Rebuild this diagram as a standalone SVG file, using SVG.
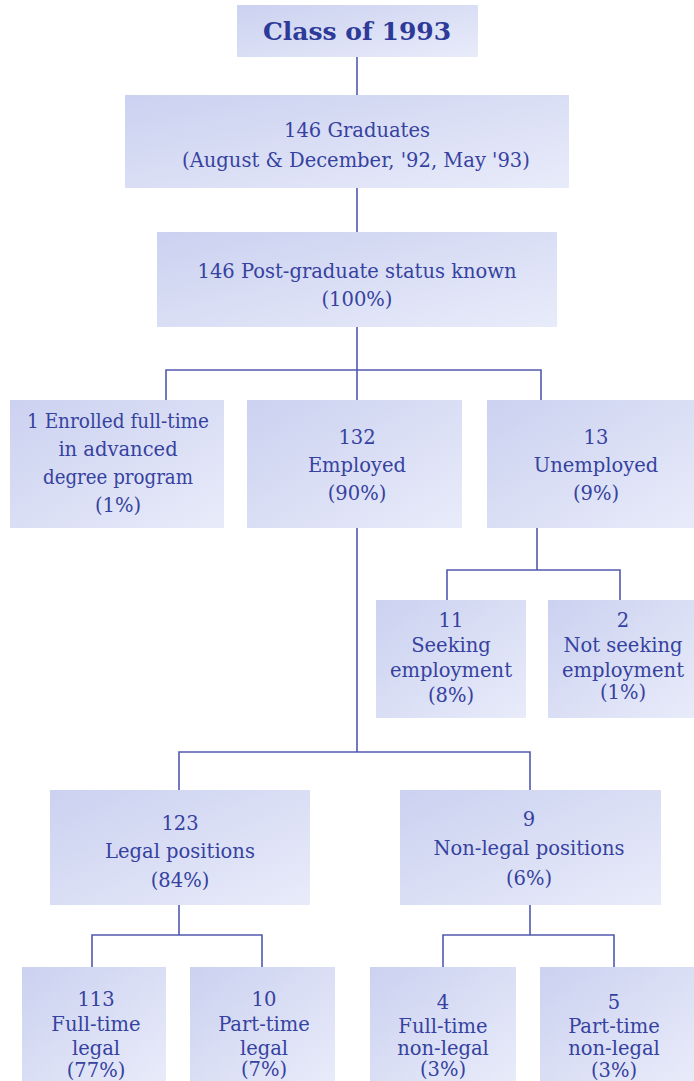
<svg xmlns="http://www.w3.org/2000/svg" width="694" height="1081" viewBox="0 0 694 1081">
<defs>
<linearGradient id="bg" x1="0" y1="0" x2="1" y2="1">
<stop offset="0" stop-color="#cbd1f0"/>
<stop offset="0.6" stop-color="#dde1f6"/>
<stop offset="1" stop-color="#e8ebf9"/>
</linearGradient>
<style>
.box{fill:url(#bg);}
.t{font-family:'DejaVu Serif','Liberation Serif',serif;font-size:19.5px;fill:#36429f;text-anchor:middle;}
.ti{font-family:'DejaVu Serif','Liberation Serif',serif;font-size:25px;font-weight:bold;fill:#2d3a98;text-anchor:middle;}
.c{stroke:#5159ae;stroke-width:1.6;fill:none;}
</style>
</defs>
<rect width="694" height="1081" fill="#ffffff"/>
<g id="connectors">
<path class="c" d="M357,57V95"/>
<path class="c" d="M357,188V232"/>
<path class="c" d="M357,327V400M166,400V370H541V400"/>
<path class="c" d="M537,528V570M447,600V570H620V600"/>
<path class="c" d="M357,528V752M179,790V752H530V790"/>
<path class="c" d="M179,905V935M92,967V935H262V967"/>
<path class="c" d="M530,905V935M443,967V935H614V967"/>
</g>
<g id="title"><rect class="box" x="237" y="5" width="241" height="52"/><text class="ti" x="357" y="40">Class of 1993</text></g>
<g id="graduates"><rect class="box" x="125" y="95" width="444" height="93"/><text class="t" x="357" y="137">146 Graduates</text><text class="t" x="356" y="167">(August &amp; December, '92, May '93)</text></g>
<g id="status"><rect class="box" x="157" y="232" width="400" height="95"/><text class="t" x="357" y="278" font-size="20">146 Post-graduate status known</text><text class="t" x="357" y="306">(100%)</text></g>
<g id="enrolled"><rect class="box" x="10" y="400" width="214" height="128"/><text class="t" x="118" y="428" textLength="182" lengthAdjust="spacingAndGlyphs">1 Enrolled full-time</text><text class="t" x="118" y="456">in advanced</text><text class="t" x="118" y="484" textLength="150" lengthAdjust="spacingAndGlyphs">degree program</text><text class="t" x="118" y="512">(1%)</text></g>
<g id="employed"><rect class="box" x="247" y="400" width="215" height="128"/><text class="t" x="357" y="444">132</text><text class="t" x="357" y="472">Employed</text><text class="t" x="357" y="500">(90%)</text></g>
<g id="unemployed"><rect class="box" x="487" y="400" width="207" height="128"/><text class="t" x="596" y="444">13</text><text class="t" x="596" y="472">Unemployed</text><text class="t" x="596" y="500">(9%)</text></g>
<g id="seeking"><rect class="box" x="376" y="600" width="150" height="118"/><text class="t" x="451" y="627">11</text><text class="t" x="451" y="652">Seeking</text><text class="t" x="451" y="677">employment</text><text class="t" x="451" y="702">(8%)</text></g>
<g id="notseeking"><rect class="box" x="548" y="600" width="146" height="118"/><text class="t" x="623" y="627">2</text><text class="t" x="623" y="652">Not seeking</text><text class="t" x="623" y="677">employment</text><text class="t" x="623" y="699">(1%)</text></g>
<g id="legal"><rect class="box" x="50" y="790" width="260" height="115"/><text class="t" x="180" y="830">123</text><text class="t" x="180" y="858">Legal positions</text><text class="t" x="180" y="887">(84%)</text></g>
<g id="nonlegal"><rect class="box" x="400" y="790" width="261" height="115"/><text class="t" x="529" y="826">9</text><text class="t" x="529" y="855">Non-legal positions</text><text class="t" x="529" y="885">(6%)</text></g>
<g id="ftlegal"><rect class="box" x="22" y="967" width="144" height="114"/><text class="t" x="96" y="1006">113</text><text class="t" x="96" y="1031">Full-time</text><text class="t" x="96" y="1055">legal</text><text class="t" x="96" y="1077">(77%)</text></g>
<g id="ptlegal"><rect class="box" x="190" y="967" width="145" height="114"/><text class="t" x="264" y="1006">10</text><text class="t" x="264" y="1031">Part-time</text><text class="t" x="264" y="1055">legal</text><text class="t" x="264" y="1076">(7%)</text></g>
<g id="ftnonlegal"><rect class="box" x="370" y="967" width="146" height="114"/><text class="t" x="443" y="1009">4</text><text class="t" x="443" y="1033">Full-time</text><text class="t" x="443" y="1055">non-legal</text><text class="t" x="443" y="1076">(3%)</text></g>
<g id="ptnonlegal"><rect class="box" x="540" y="967" width="154" height="114"/><text class="t" x="614" y="1009">5</text><text class="t" x="614" y="1033">Part-time</text><text class="t" x="614" y="1055">non-legal</text><text class="t" x="614" y="1077">(3%)</text></g>
</svg>
